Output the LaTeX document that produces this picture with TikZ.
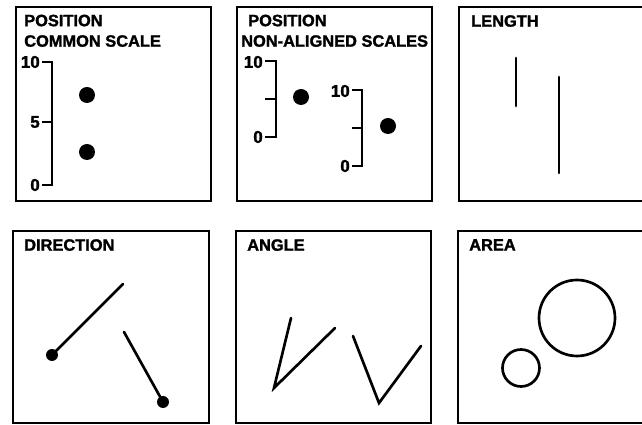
\documentclass[tikz,border=0pt]{standalone}
\usepackage{fontspec}
\newfontfamily\lblfont[BoldFeatures={FakeBold=1.6}]{Liberation Sans}
\begin{document}
\begin{tikzpicture}[x=0.3mm,y=-0.3mm,
  panel/.style={line width=0.6mm},
  ttl/.style={font=\lblfont\bfseries\fontsize{14}{17.5}\selectfont,anchor=north west,inner sep=0pt,align=left},
  num/.style={font=\lblfont\bfseries\fontsize{14.5}{14.5}\selectfont,anchor=east,inner sep=0pt},
  bar/.style={line width=0.65mm},
  stroke/.style={line width=0.8mm,line cap=round}]
  \useasboundingbox (0,0) rectangle (642,425); \clip (0,0) rectangle (642,425);
  % position, common scale
  \draw[panel] (16,7) rectangle (211,201);
  \node[ttl] (t1) at (24,14.5) {POSITION\\COMMON SCALE};
  \draw[bar] (42,62) -- (52,62) -- (52,185) -- (42,185); \draw[bar] (42,122) -- (52,122);
  \node[num] (s1a) at (40,62) {10}; \node[num] (s1b) at (40,122) {5}; \node[num] (s1c) at (40,185) {0};
  \fill (87,95) circle (8); \fill (87,152) circle (8);
  % position, non-aligned scales
  \draw[panel] (237,7) rectangle (432,201);
  \node[ttl] (t2) at (241,14.5) {\hspace*{2.1mm}POSITION\\NON-ALIGNED SCALES};
  \draw[bar] (265,61) -- (276,61) -- (276,137) -- (265,137); \draw[bar] (265,99) -- (276,99);
  \node[num] (s2a) at (263,62) {10}; \node[num] (s2b) at (263,137) {0};
  \fill (301,97) circle (8);
  \draw[bar] (352,90) -- (362,90) -- (362,166) -- (352,166); \draw[bar] (352,128) -- (362,128);
  \node[num] (s3a) at (350,91) {10}; \node[num] (s3b) at (350,166) {0};
  \fill (388,126) circle (8);
  % length
  \draw[panel] (459,7) rectangle (654,201);
  \node[ttl] (t3) at (471,15) {LENGTH};
  \draw[stroke] (516,58) -- (516,106); \draw[stroke] (559,77) -- (559,173);
  % direction
  \draw[panel] (13,231) rectangle (209,423);
  \node[ttl] (t4) at (24,239) {DIRECTION};
  \draw[stroke] (52,355) -- (123,284); \fill (52,355) circle (6);
  \draw[stroke] (124,332) -- (163,402); \fill (163,402) circle (6);
  % angle
  \draw[panel] (236,231) rectangle (431,423);
  \node[ttl] (t5) at (247,239) {ANGLE};
  \draw[stroke] (291,318) -- (274,388) -- (335,328);
  \draw[stroke] (353,336) -- (379,403) -- (421,346);
  % area
  \draw[panel] (458,231) rectangle (654,423);
  \node[ttl] (t6) at (469,239) {AREA};
  \draw[stroke] (577,318) circle (38); \draw[stroke] (521,368) circle (18.5);
\end{tikzpicture}
\end{document}
